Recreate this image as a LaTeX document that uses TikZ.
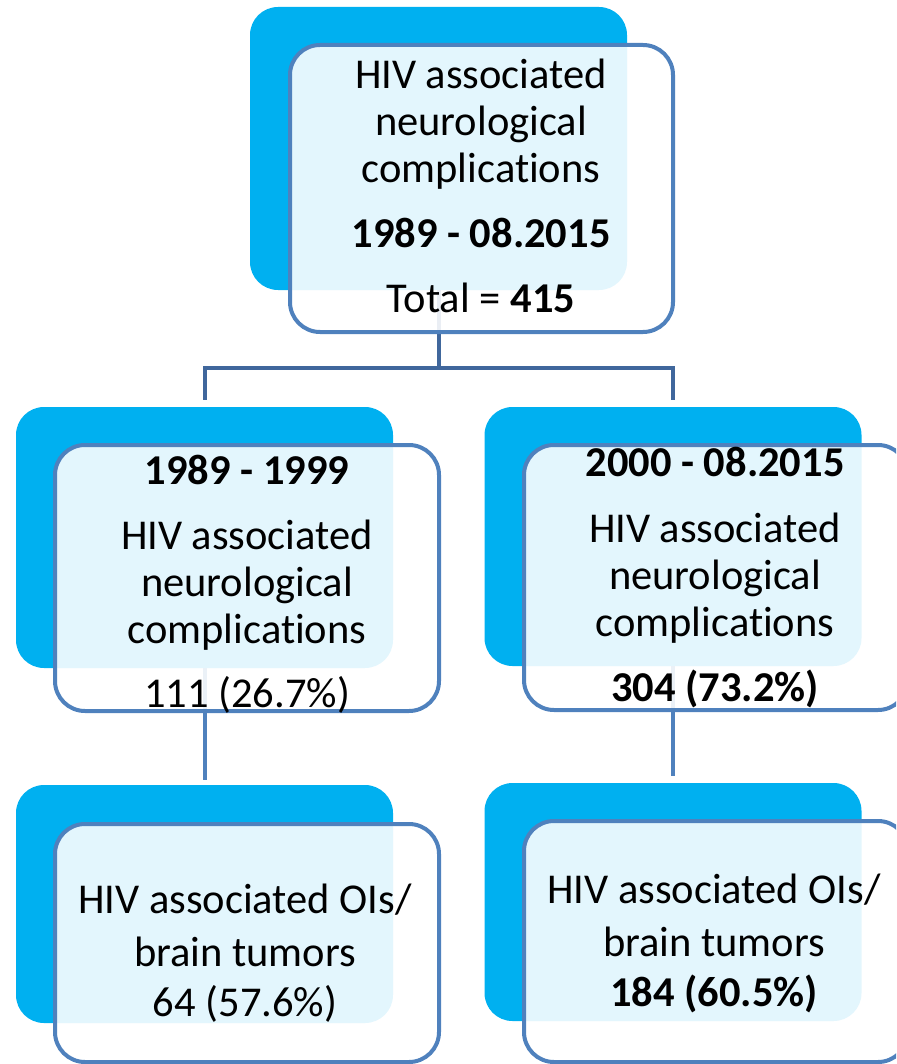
\documentclass[tikz,border=0pt]{standalone}
\usepackage{fontspec}
\setmainfont[Ligatures=NoCommon]{Carlito}
\usepackage{tikz}
\usetikzlibrary{positioning}
\definecolor{hivCyan}{HTML}{00B0F0}
\definecolor{hivEdge}{HTML}{4F81BD}
\definecolor{hivLink}{HTML}{40679C}

\begin{document}
\begin{tikzpicture}[x=1pt, y=-1pt,
    backbox/.style={fill=hivCyan, rounded corners=28pt, minimum width=377pt, inner sep=0pt},
    frontbox/.style={draw=hivEdge, line width=4pt, fill=white, fill opacity=0.89, rounded corners=30pt, minimum width=384pt, inner sep=0pt},
    txt/.style={align=center, font=\fontsize{42.5}{47}\selectfont, inner sep=0pt},
    link/.style={draw=hivLink, line width=4pt}]
      \clip (0,0) rectangle (896,1064);
      % back (cyan) boxes
      \node[backbox, minimum height=283pt] (topB) at (438.5,148.5) {};
      \node[backbox, minimum height=261pt] (midLB) at (204.5,537.5) {};
      \node[backbox, minimum height=259pt] (midRB) at (673,536.5) {};
      \node[backbox, minimum height=238pt] (botLB) at (204.5,904) {};
      \node[backbox, minimum height=238pt] (botRB) at (673,902) {};
      % connectors
      \coordinate (fork) at ([yshift=-78pt]topB.south);
      \draw[link, shorten >=7pt] (topB.south) -- (fork) -| (midLB.north);
      \draw[link, shorten >=7pt] (fork) -| (midRB.north);
      \draw[link, draw=hivEdge, shorten >=5pt] (midLB.south) -- (botLB.north);
      \draw[link, draw=hivEdge, shorten >=7pt] (midRB.south) -- (botRB.north);
      % front boxes
      \node[frontbox, minimum width=383pt, minimum height=287pt] (topF) at (481.5,188.5) {};
      \node[frontbox, minimum height=266pt] (midLF) at (247,578) {};
      \node[frontbox, minimum height=265pt] (midRF) at (716,577.5) {};
      \node[frontbox, minimum height=238pt] (botLF) at (247,943) {};
      \node[frontbox, minimum height=241pt] (botRF) at (716,941.5) {};
      % texts
      \node[txt] (topT) at (481,186) {HIV associated\\neurological\\complications\\[18pt]\textbf{1989 - 08.2015}\\[18pt]Total = \textbf{415}};
      \node[txt] (midLT) at (247,584.5) {\textbf{1989 - 1999}\\[18pt]HIV associated\\neurological\\complications\\[17pt]111 (26.7\%)};
      \node[txt] (midRT) at (715,578) {\textbf{2000 - 08.2015}\\[19pt]HIV associated\\neurological\\complications\\[18pt]\textbf{304 (73.2\%)}};
      \node[txt] (botLT) at (245,953.5) {HIV associated OIs/\\[6pt]brain tumors\\[3pt]64 (57.6\%)};
      \node[txt] (botRT) at (714,943.5) {HIV associated OIs/\\[6pt]brain tumors\\[3pt]\textbf{184 (60.5\%)}};
    \end{tikzpicture}
\end{document}
